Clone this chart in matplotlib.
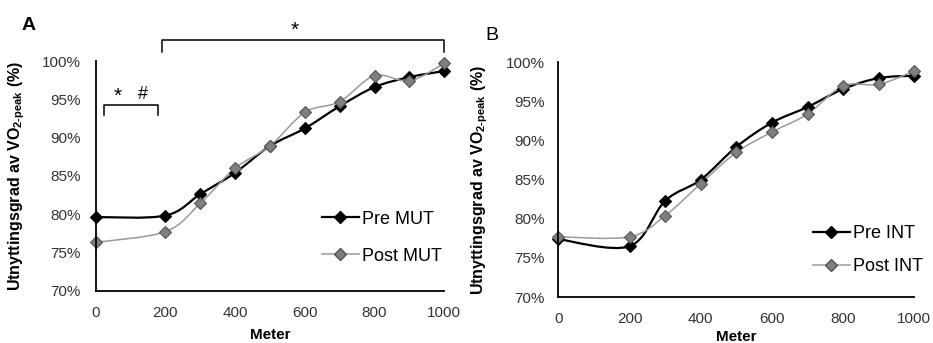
import numpy as np
import matplotlib
matplotlib.use('Agg')
import matplotlib.pyplot as plt
from matplotlib.path import Path
from matplotlib.patches import PathPatch
from matplotlib.lines import Line2D

plt.rcParams['font.family'] = ['Liberation Sans', 'DejaVu Sans']
plt.rcParams['mathtext.fontset'] = 'custom'
plt.rcParams['mathtext.rm'] = 'Liberation Sans'
plt.rcParams['mathtext.bf'] = 'Liberation Sans:bold'

# Data
meter = [0, 200, 300, 400, 500, 600, 700, 800, 900, 1000]
pre_mut = [79.6, 79.8, 82.6, 85.4, 88.9, 91.2, 94.1, 96.6, 97.9, 98.7]
post_mut = [76.3, 77.7, 81.4, 86.0, 88.9, 93.3, 94.7, 98.1, 97.4, 99.7]
pre_int = [77.4, 76.5, 82.3, 85.0, 89.2, 92.3, 94.3, 96.6, 98.0, 98.3]
post_int = [77.7, 77.7, 80.4, 84.5, 88.5, 91.1, 93.4, 97.0, 97.2, 98.9]
yticks = [70, 75, 80, 85, 90, 95, 100]
xticks = [0, 200, 400, 600, 800, 1000]


def smooth_path(x, y):
    # Excel style smoothed line: Catmull-Rom as cubic Bezier
    p = np.column_stack([x, y]).astype(float)
    n = len(p)
    verts = [p[0]]
    codes = [Path.MOVETO]
    for i in range(n - 1):
        p0 = p[i - 1] if i > 0 else p[i]
        p3 = p[i + 2] if i + 2 < n else p[i + 1]
        c1 = p[i] + (p[i + 1] - p0) / 6
        c2 = p[i + 1] - (p3 - p[i]) / 6
        verts += [c1, c2, p[i + 1]]
        codes += [Path.CURVE4] * 3
    return Path(verts, codes)


pre_style = dict(color='black', lw=1.6, mfc='black', mec='black')
post_style = dict(color='#9a9a9a', lw=1.1, mfc='#7f7f7f', mec='#555555')


def draw_panel(ax, pre, post, ypad, xpad, xlabelpad):
    for vals, st in [(pre, pre_style), (post, post_style)]:
        ax.add_patch(PathPatch(smooth_path(meter, vals), fc='none',
                               ec=st['color'], lw=st['lw'], clip_on=False))
        ax.plot(meter, vals, ls='none', marker='D', ms=6.5,
                mfc=st['mfc'], mec=st['mec'], mew=0.8, clip_on=False)
    ax.set_xlim(0, 1000)
    ax.set_ylim(70, 100)
    ax.set_xticks(xticks)
    ax.set_yticks(yticks)
    ax.set_yticklabels([f'{t}%' for t in yticks])
    ax.tick_params(length=0, labelsize=11, colors='#333333')
    ax.tick_params(axis='y', pad=ypad)
    ax.tick_params(axis='x', pad=xpad)
    for s in ['top', 'right']:
        ax.spines[s].set_visible(False)
    for s in ['left', 'bottom']:
        ax.spines[s].set_linewidth(1.3)
    ax.set_xlabel('Meter', fontsize=11, fontweight='bold', labelpad=xlabelpad)
    ax.set_ylabel('Utnyttingsgrad av VO$_{\\mathbf{2\u2010peak}}$ (%)',
                  fontsize=11.5, fontweight='bold')
    handles = [Line2D([], [], color=pre_style['color'], lw=pre_style['lw'],
                      marker='D', ms=6.5, mfc=pre_style['mfc'], mec=pre_style['mec']),
               Line2D([], [], color=post_style['color'], lw=post_style['lw'],
                      marker='D', ms=6.5, mfc=post_style['mfc'], mec=post_style['mec'])]
    return handles


fig = plt.figure(figsize=(9.33, 3.43), dpi=100)
axA = fig.add_axes([0.1026, 0.153, 0.3736, 0.669])
axB = fig.add_axes([0.5984, 0.134, 0.3816, 0.684])

h = draw_panel(axA, pre_mut, post_mut, 11, 11, 6)
axA.yaxis.set_label_coords(-0.197, 0.5)
axA.legend(h, ['Pre MUT', 'Post MUT'], loc='center left', bbox_to_anchor=(0.648, 0.23),
           frameon=False, fontsize=13, handlelength=2.05, handletextpad=0.2,
           labelspacing=1.1, borderpad=0, borderaxespad=0)

h = draw_panel(axB, pre_int, post_int, 9.5, 10.5, 3)
axB.yaxis.set_label_coords(-0.192, 0.5)
axB.legend(h, ['Pre INT', 'Post INT'], loc='center left', bbox_to_anchor=(0.715, 0.20),
           frameon=False, fontsize=13, handlelength=2.05, handletextpad=0.2,
           labelspacing=0.87, borderpad=0, borderaxespad=0)

# significance brackets, panel A
axA.plot([190, 190, 1000, 1000], [101.2, 102.8, 102.8, 101.2], color='black',
         lw=1.1, clip_on=False)
axA.text(572, 104.0, '*', fontsize=15, ha='center', va='center')
axA.plot([25, 25, 178, 178], [92.9, 94.25, 94.25, 92.9], color='black', lw=1.1,
         clip_on=False)
axA.text(62, 95.4, '*', fontsize=15, ha='center', va='center')
axA.text(135, 95.6, '#', fontsize=13, ha='center', va='center')

fig.text(22 / 933, 1 - 26 / 343, 'A', fontsize=14, fontweight='bold', va='center')
fig.text(485 / 933, 1 - 35 / 343, 'B', fontsize=14, va='center')

fig.savefig('out.png', dpi=100)
